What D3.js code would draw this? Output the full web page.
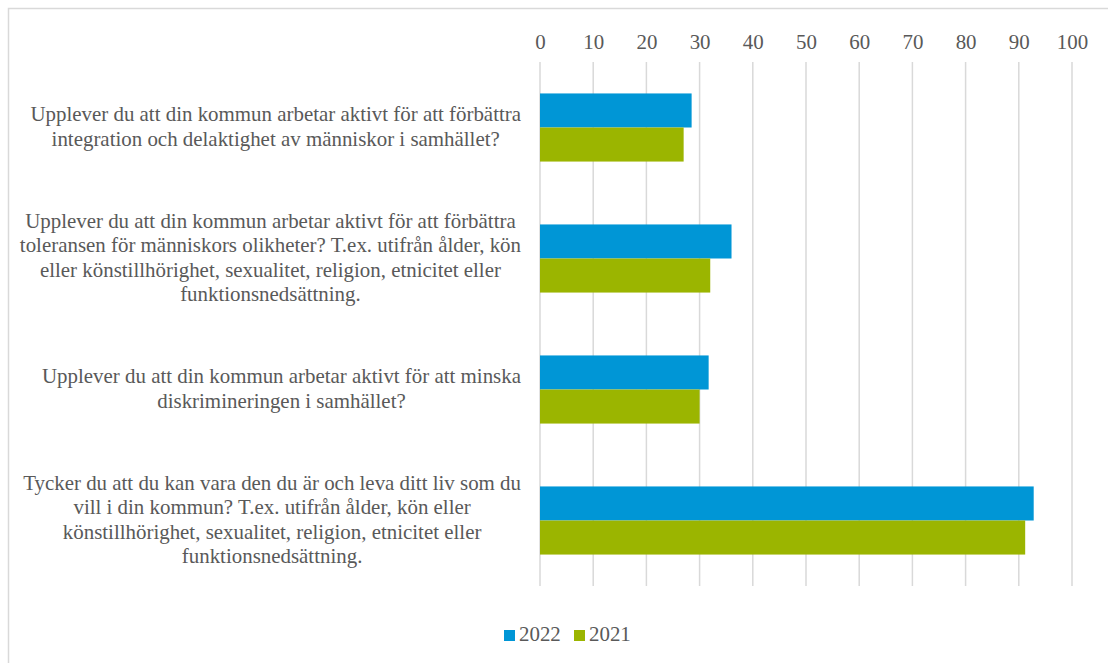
<!DOCTYPE html>
<html><head><meta charset="utf-8">
<script src="https://cdn.jsdelivr.net/npm/d3@7"></script>
<style>body{margin:0;background:#fff}svg{display:block}
text{font-family:"Liberation Serif","DejaVu Serif",serif;}</style>
</head><body>
<svg id="c" width="1108" height="663"></svg>
<script>
const categories = [
  ["Upplever du att din kommun arbetar aktivt för att förbättra","integration och delaktighet av människor i samhället?"],
  ["Upplever du att din kommun arbetar aktivt för att förbättra","toleransen för människors olikheter? T.ex. utifrån ålder, kön","eller könstillhörighet, sexualitet, religion, etnicitet eller","funktionsnedsättning."],
  ["Upplever du att din kommun arbetar aktivt för att minska","diskrimineringen i samhället?"],
  ["Tycker du att du kan vara den du är och leva ditt liv som du","vill i din kommun? T.ex. utifrån ålder, kön eller","könstillhörighet, sexualitet, religion, etnicitet eller","funktionsnedsättning."]
];
const seriesNames = ["2022","2021"];
const values2022 = [28.5, 36.0, 31.7, 92.8];
const values2021 = [27.0, 32.0, 30.0, 91.2];
const tickValues = [0,10,20,30,40,50,60,70,80,90,100];
const colors = ["#0096D6","#9BB500"];

const svg = d3.select("#c");
const txt = "#595959";

// outer border
svg.append("rect").attr("x",8.5).attr("y",8.5).attr("width",1120).attr("height",680)
  .attr("fill","none").attr("stroke","#D9D9D9").attr("stroke-width",1.5);

const x = d3.scaleLinear().domain([0,100]).range([540,1072]);
const idx = d3.range(categories.length);
const y = d3.scaleBand().domain(idx).range([62,586]).paddingInner(0.48).paddingOuter(0.24);
const ySub = d3.scaleBand().domain(seriesNames).range([0,y.bandwidth()]);

// gridlines
svg.append("g").selectAll("line").data(tickValues).join("line")
  .attr("x1",d=>x(d)).attr("x2",d=>x(d)).attr("y1",62).attr("y2",586)
  .attr("stroke","#D9D9D9").attr("stroke-width",1.5);

// measure font size to fit longest label line ≈ 491px
const probe = svg.append("text").style("font-size","17px").text(categories[0][0]);
const w17 = probe.node().getComputedTextLength();
probe.remove();
const fs = Math.max(14, Math.min(22, 17*491/w17));

// top axis labels
const axis = svg.append("g").attr("transform","translate(0,62)")
  .call(d3.axisTop(x).tickValues(tickValues).tickSize(0).tickPadding(13));
axis.select(".domain").remove();
axis.selectAll("text").attr("font-family",null).style("font-size",fs+"px").attr("fill",txt);

// bars
const data = idx.map(i=>[{s:"2022",v:values2022[i]},{s:"2021",v:values2021[i]}]);
const groups = svg.append("g").selectAll("g").data(data).join("g")
  .attr("transform",(d,i)=>`translate(0,${y(i)})`);
groups.selectAll("rect").data(d=>d).join("rect")
  .attr("x",x(0)).attr("y",d=>ySub(d.s)).attr("height",ySub.bandwidth())
  .attr("width",d=>x(d.v)-x(0)).attr("fill",(d,j)=>colors[j]);

// category labels
const lineH = 24.4;
const labelRight = 521;
categories.forEach((lines,i)=>{
  const cy = y(i) + y.bandwidth()/2 - 1;
  const g = svg.append("g");
  const ts = g.selectAll("text").data(lines).join("text")
    .style("font-size",fs+"px").attr("fill",txt)
    .attr("text-anchor","middle").attr("dominant-baseline","central")
    .attr("y",(d,k)=>cy + (k-(lines.length-1)/2)*lineH)
    .text(d=>d);
  let maxW = 0;
  ts.each(function(){maxW=Math.max(maxW,this.getComputedTextLength());});
  ts.attr("x", labelRight - maxW/2);
});

// legend
const leg = svg.append("g");
const legX = [504, 574];
seriesNames.forEach((s,j)=>{
  leg.append("rect").attr("x",legX[j]).attr("y",630).attr("width",11).attr("height",11).attr("fill",colors[j]);
  leg.append("text").attr("x",legX[j]+15).attr("y",641).style("font-size",fs+"px")
    .attr("fill",txt).text(s);
});
</script>
</body></html>
